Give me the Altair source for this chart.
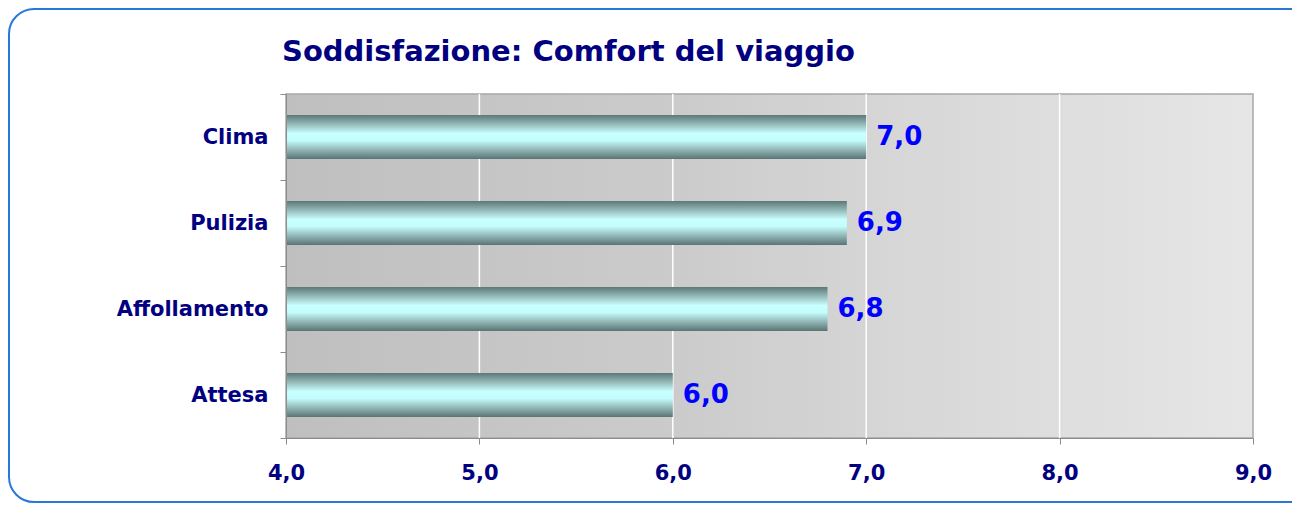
import altair as alt
import pandas as pd

categories = ["Clima", "Pulizia", "Affollamento", "Attesa"]
values = [7.0, 6.9, 6.8, 6.0]
x_ticks = [4, 5, 6, 7, 8, 9]
grid_values = [5, 6, 7, 8]
title_text = "Soddisfazione: Comfort del viaggio"

df = pd.DataFrame({"category": categories, "value": values})
grid_df = pd.DataFrame({"g": grid_values})
title_df = pd.DataFrame({"t": [title_text]})

FONT = "DejaVu Sans"
NAVY = "#000080"
W, H = 967, 344

frame = alt.Chart(pd.DataFrame({"a": [0]})).mark_rect(
    cornerRadius=25, fill="white", stroke="#2878d8", strokeWidth=2
).encode(
    x=alt.value(-277), x2=alt.value(1040), y=alt.value(-85), y2=alt.value(408)
)

bg = alt.Chart(pd.DataFrame({"a": [0]})).mark_rect(
    fill=alt.LinearGradient(
        gradient="linear", x1=0, x2=1, y1=0, y2=0,
        stops=[
            alt.GradientStop(offset=0, color="#bfbfbf"),
            alt.GradientStop(offset=0.4, color="#cbcbcb"),
            alt.GradientStop(offset=0.7, color="#dadada"),
            alt.GradientStop(offset=1, color="#e6e6e6"),
        ],
    ),
    stroke="#a8a8a8", strokeWidth=1.5,
).encode(x=alt.value(0), x2=alt.value(W), y=alt.value(0), y2=alt.value(H))

xscale = alt.Scale(domain=[4, 9], nice=False, zero=False)
yscale = alt.Scale(paddingInner=0, paddingOuter=0)

x_axis = alt.Axis(
    title=None, values=x_ticks, grid=False, zindex=1, labelFlush=False,
    labelExpr="replace(format(datum.value, '.1f'), '.', ',')",
    labelFont=FONT, labelFontSize=21, labelFontWeight="bold",
    labelColor=NAVY, labelPadding=18, tickSize=6,
    tickColor="#8c8c8c", domainColor="#8c8c8c",
)
y_axis = alt.Axis(
    title=None, grid=False, zindex=1, tickBand="extent",
    labelFont=FONT, labelFontSize=21, labelFontWeight="bold",
    labelColor=NAVY, labelPadding=12, tickSize=6,
    tickColor="#8c8c8c", domainColor="#8c8c8c",
)

grid = alt.Chart(grid_df).mark_rule(color="white", strokeWidth=1.5).encode(
    x=alt.X("g:Q", scale=xscale, axis=x_axis)
)

bar_grad = alt.LinearGradient(
    gradient="linear", x1=0, x2=0, y1=0, y2=1,
    stops=[
        alt.GradientStop(offset=0, color="#5c7878"),
        alt.GradientStop(offset=0.2, color="#92b6b6"),
        alt.GradientStop(offset=0.42, color="#c8ffff"),
        alt.GradientStop(offset=0.58, color="#c4fbfb"),
        alt.GradientStop(offset=0.8, color="#8fb3b3"),
        alt.GradientStop(offset=1, color="#5a7474"),
    ],
)

bars = alt.Chart(df).mark_bar(size=44, fill=bar_grad).encode(
    x=alt.X("value:Q", scale=xscale, axis=x_axis),
    x2=alt.datum(4),
    y=alt.Y("category:N", sort=categories, scale=yscale, axis=y_axis),
)

labels = alt.Chart(df).transform_calculate(
    label="replace(format(datum.value, '.1f'), '.', ',')"
).mark_text(
    align="left", baseline="middle", dx=10, font=FONT, fontSize=26,
    fontWeight="bold", color="#0000ff",
).encode(
    x=alt.X("value:Q", scale=xscale, axis=x_axis),
    y=alt.Y("category:N", sort=categories, scale=yscale, axis=y_axis),
    text="label:N",
)

title = alt.Chart(title_df).mark_text(
    align="left", baseline="alphabetic", font=FONT, fontSize=29,
    fontWeight="bold", color=NAVY,
).encode(x=alt.value(-4), y=alt.value(-33), text="t:N")

chart = alt.layer(frame, bg, grid, bars, labels, title).properties(
    width=W, height=H,
    autosize=alt.AutoSizeParams(type="none"),
    padding={"left": 278, "top": 86, "right": 39, "bottom": 66},
).configure_view(stroke=None)

chart.save("out.html", embed_options={"renderer": "svg", "actions": False})
